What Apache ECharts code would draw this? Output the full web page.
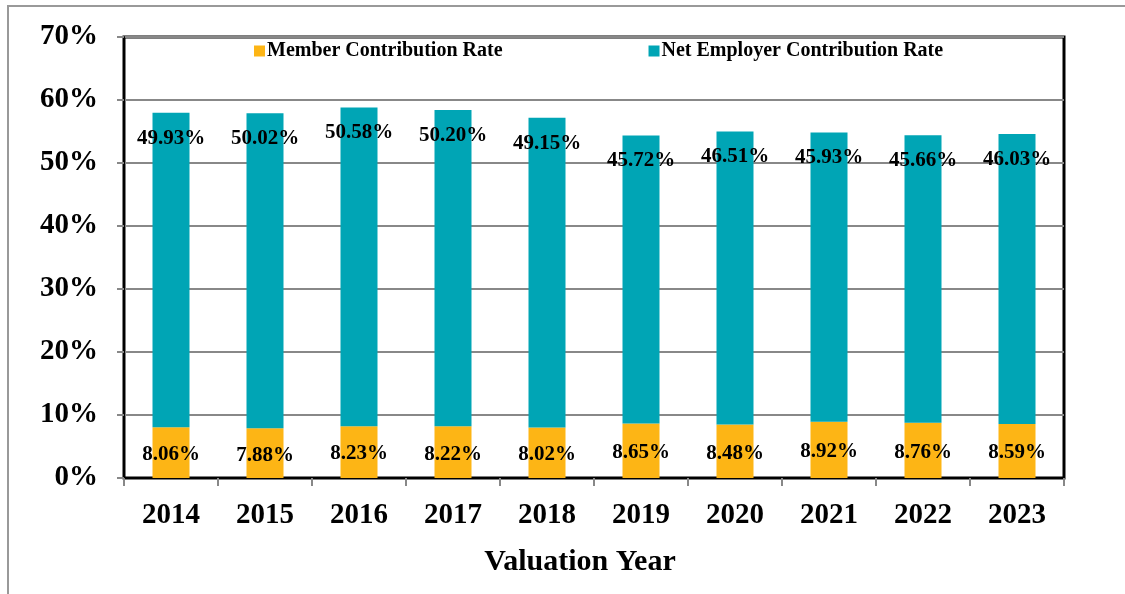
<!DOCTYPE html>
<html>
<head>
<meta charset="utf-8">
<script src="https://cdn.jsdelivr.net/npm/echarts@6/dist/echarts.min.js"></script>
<style>
  html, body { margin: 0; padding: 0; background: #fff; }
  .frame {
    position: absolute; left: 7px; top: 5px; width: 1118px; height: 589px;
    border-top: 2px solid #999; border-left: 2px solid #999;
  }
  #chart { position: absolute; left: 0; top: 0; width: 1125px; height: 594px; }
</style>
</head>
<body>
<div class="frame"></div>
<div id="chart"></div>
<script>
var years = ['2014', '2015', '2016', '2017', '2018', '2019', '2020', '2021', '2022', '2023'];
var memberRate = [8.06, 7.88, 8.23, 8.22, 8.02, 8.65, 8.48, 8.92, 8.76, 8.59];
var employerRate = [49.93, 50.02, 50.58, 50.20, 49.15, 45.72, 46.51, 45.93, 45.66, 46.03];

var font = 'Liberation Serif';
var chart = echarts.init(document.getElementById('chart'));

chart.setOption({
  animation: false,
  legend: {
    left: 249,
    top: 36,
    itemWidth: 11,
    itemHeight: 11,
    itemGap: 146,
    icon: 'rect',
    textStyle: { fontFamily: font, fontWeight: 'bold', fontSize: 20, color: '#000', padding: [0, 0, 0, -3] },
    data: ['Member Contribution Rate', 'Net Employer Contribution Rate']
  },
  grid: {
    left: 124, right: 61, top: 37, bottom: 116,
    show: true, borderColor: '#000', borderWidth: 3
  },
  xAxis: {
    type: 'category',
    data: years,
    name: 'Valuation Year',
    nameLocation: 'middle',
    nameGap: 69,
    nameTextStyle: { fontFamily: font, fontWeight: 'bold', fontSize: 30, color: '#000', padding: [0, 28, 0, 0] },
    axisLine: { lineStyle: { color: '#000', width: 2 } },
    axisTick: { show: true, length: 8, lineStyle: { color: '#888', width: 2 } },
    axisLabel: { fontFamily: font, fontWeight: 'bold', fontSize: 29, color: '#000', margin: 23 }
  },
  yAxis: {
    type: 'value',
    min: 0, max: 70, interval: 10,
    axisLine: { show: true, lineStyle: { color: '#000', width: 2 } },
    axisTick: { show: true, length: 7, lineStyle: { color: '#888', width: 2 } },
    splitLine: { lineStyle: { color: '#888', width: 2 } },
    axisLabel: { formatter: '{value}%', fontFamily: font, fontWeight: 'bold', fontSize: 29, color: '#000', margin: 26 }
  },
  series: [
    {
      name: 'Member Contribution Rate',
      type: 'bar',
      stack: 'total',
      barWidth: 37,
      itemStyle: { color: '#FDB515' },
      label: {
        show: true, position: 'inside', offset: [0, 2],
        formatter: function (p) { return p.value.toFixed(2) + '%'; },
        fontFamily: font, fontWeight: 'bold', fontSize: 21, color: '#000'
      },
      data: memberRate
    },
    {
      name: 'Net Employer Contribution Rate',
      type: 'bar',
      stack: 'total',
      barWidth: 37,
      itemStyle: { color: '#00A5B5' },
      label: {
        show: true, position: 'insideTop', distance: 15,
        formatter: function (p) { return p.value.toFixed(2) + '%'; },
        fontFamily: font, fontWeight: 'bold', fontSize: 21, color: '#000'
      },
      data: employerRate
    }
  ]
});
</script>
</body>
</html>
